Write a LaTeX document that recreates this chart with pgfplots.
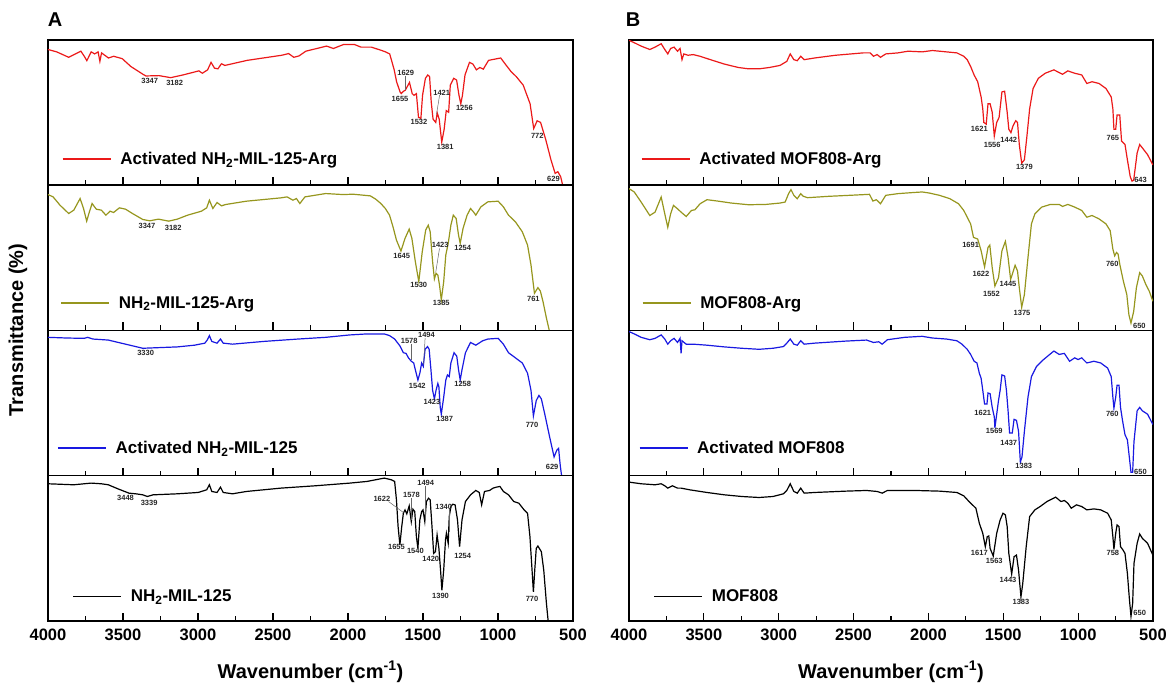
\documentclass[border=0pt]{standalone}
\usepackage{fontspec}
\setmainfont{Liberation Sans}
\usepackage{pgfplots}
\pgfplotsset{compat=1.18}

\definecolor{ftred}{RGB}{235,25,25}
\definecolor{ftolive}{RGB}{150,150,30}
\definecolor{ftblue}{RGB}{25,25,225}

\tikzset{
  pk/.style={font=\bfseries\fontsize{7.5}{7.5}\selectfont, text=black!85, inner sep=0.5pt},
  pkl/.style={black!60, line width=0.5pt},
}

\pgfplotsset{
  ftir/.style={
    scale only axis, height=145.25pt,
    xmin=500, xmax=4000, x dir=reverse, y dir=reverse,
    xtick={500,1000,...,4000}, minor x tick num=1,
    xtick pos=bottom, ytick=\empty,
    major tick length=8pt, minor tick length=5pt,
    axis line style={line width=1.5pt},
    tick style={black, line width=1.2pt},
    clip mode=individual,
    legend cell align=left,
    legend style={anchor=south west, draw=none, fill=white, inner xsep=6pt, inner ysep=4pt,
      font=\bfseries\fontsize{17}{20}\selectfont,
      /tikz/every odd column/.append style={column sep=7pt}},
    legend image code/.code={\draw[##1, line width=1.3pt] (0pt,0pt) -- (48pt,0pt);},
    xticklabel style={font=\bfseries\fontsize{16.5}{16.5}\selectfont, yshift=-4pt},
    /pgf/number format/assume math mode=true,
    /pgf/number format/1000 sep={},
  },
  notl/.style={xticklabels={}},
  wnlabel/.style={xlabel={Wavenumber (cm\textsuperscript{-1})},
    xlabel style={font=\bfseries\fontsize{20}{20}\selectfont, at={(axis description cs:0.5,0)}, anchor=center, yshift=-51pt}},
  pA/.style={width=525pt},
  pB/.style={width=524pt},
}

\begin{document}
\begin{tikzpicture}
\path[use as bounding box] (0,0) rectangle (1170pt,693pt);

\node[font=\bfseries\fontsize{20}{20}\selectfont] at (55pt,673pt) {A};
\node[font=\bfseries\fontsize{20}{20}\selectfont] at (633pt,673pt) {B};
\node[rotate=90, font=\bfseries\fontsize{20}{20}\selectfont] at (18pt,363pt) {Transmittance (\%)};

% ---------------- panel A ----------------
\begin{axis}[ftir, pA, notl, at={(48pt,507.75pt)}, anchor=south west, ymin=37, ymax=465,
  legend style={at={(0.015,0.09)}}]
\addplot[ftred, line width=1.2pt] coordinates {
(4000,65)(3942,72)(3862,88)(3781,70)(3758,85)(3741,98)(3712,72)(3689,78)(3666,72)(3654,100)(3643,75)(3597,90)(3562,85)(3505,92)(3448,115)(3367,138)(3347,143)(3260,142)(3182,148)(3100,140)(2994,128)(2971,135)(2936,125)(2913,103)(2890,120)(2867,122)(2844,107)(2821,112)(2672,97)(2442,82)(2396,77)(2361,88)(2327,84)(2281,70)(2143,55)(2097,62)(2028,50)(1959,50)(1913,58)(1844,58)(1775,68)(1750,72)(1722,78)(1711,95)(1692,125)(1676,160)(1653,190)(1645,195)(1630,188)(1618,185)(1590,162)(1572,195)(1560,200)(1544,195)(1530,265)(1514,268)(1503,200)(1484,150)(1468,140)(1456,145)(1445,220)(1433,270)(1415,280)(1405,252)(1392,270)(1375,338)(1359,300)(1345,245)(1329,250)(1318,170)(1295,150)(1276,155)(1260,200)(1248,225)(1237,200)(1220,140)(1190,103)(1167,108)(1144,125)(1121,118)(1098,123)(1063,97)(982,90)(948,110)(913,130)(878,145)(832,170)(786,225)(762,298)(739,275)(716,280)(682,330)(647,390)(619,430)(601,425)(582,440)(566,470)
};
\addlegendentry{Activated NH\textsubscript{2}-MIL-125-Arg}
\node[pk] at (axis cs:3322,157) {3347};
\node[pk] at (axis cs:3156,163) {3182};
\node[pk] at (axis cs:1615,133) {1629};
\draw[pkl] (axis cs:1618,143) -- (axis cs:1618,183);
\node[pk] at (axis cs:1653,212) {1655};
\node[pk] at (axis cs:1527,278) {1532};
\node[pk] at (axis cs:1375,192) {1421};
\draw[pkl] (axis cs:1389,199) -- (axis cs:1410,256);
\node[pk] at (axis cs:1224,238) {1256};
\node[pk] at (axis cs:1352,352) {1381};
\node[pk] at (axis cs:738,320) {772};
\node[pk] at (axis cs:630,445) {629};
\end{axis}

\begin{axis}[ftir, pA, notl, at={(48pt,362.5pt)}, anchor=south west, ymin=0, ymax=437,
  legend style={at={(0.012,0.1)}}]
\addplot[ftolive, line width=1.2pt] coordinates {
(4000,28)(3966,35)(3920,60)(3862,85)(3828,75)(3786,40)(3763,70)(3742,108)(3724,80)(3706,55)(3678,72)(3644,75)(3614,90)(3586,78)(3563,82)(3524,68)(3483,72)(3437,85)(3368,103)(3322,107)(3264,102)(3195,108)(3138,102)(3069,90)(2977,78)(2942,68)(2924,45)(2901,70)(2873,52)(2843,62)(2816,58)(2678,48)(2448,38)(2406,35)(2367,45)(2344,40)(2321,55)(2287,35)(2149,25)(2034,28)(1966,27)(1896,30)(1851,32)(1815,42)(1781,55)(1751,70)(1723,90)(1700,125)(1677,165)(1647,198)(1620,160)(1592,132)(1574,160)(1551,230)(1528,290)(1505,200)(1482,135)(1465,120)(1452,140)(1436,230)(1424,282)(1413,265)(1401,270)(1390,300)(1378,345)(1362,290)(1348,210)(1332,175)(1314,120)(1298,90)(1279,100)(1263,150)(1252,175)(1233,130)(1206,90)(1183,70)(1164,80)(1148,90)(1114,65)(1068,50)(999,48)(964,65)(930,90)(884,110)(838,140)(803,180)(780,240)(757,325)(734,308)(718,318)(700,350)(677,400)(658,437)(642,470)
};
\addlegendentry{NH\textsubscript{2}-MIL-125-Arg}
\node[pk] at (axis cs:3340,122) {3347};
\node[pk] at (axis cs:3165,128) {3182};
\node[pk] at (axis cs:1642,212) {1645};
\node[pk] at (axis cs:1385,180) {1423};
\draw[pkl] (axis cs:1390,190) -- (axis cs:1415,262);
\node[pk] at (axis cs:1235,190) {1254};
\node[pk] at (axis cs:1528,300) {1530};
\node[pk] at (axis cs:1378,355) {1385};
\node[pk] at (axis cs:764,342) {761};
\end{axis}

\begin{axis}[ftir, pA, notl, at={(48pt,217.25pt)}, anchor=south west, ymin=5, ymax=430,
  legend style={at={(0.006,0.1)}}]
\addplot[ftblue, line width=1.2pt] coordinates {
(4000,25)(3874,27)(3759,28)(3736,25)(3701,30)(3598,33)(3483,45)(3368,57)(3253,55)(3138,53)(3023,48)(2954,42)(2937,32)(2924,20)(2908,37)(2873,42)(2850,30)(2832,42)(2770,45)(2563,37)(2333,30)(2149,25)(1988,18)(1873,15)(1758,15)(1723,20)(1689,30)(1654,50)(1631,70)(1613,72)(1597,85)(1578,95)(1562,100)(1551,120)(1534,150)(1521,130)(1509,100)(1498,110)(1486,60)(1470,52)(1459,60)(1447,120)(1436,180)(1424,205)(1413,180)(1401,160)(1394,170)(1385,230)(1378,250)(1362,200)(1348,150)(1337,135)(1325,140)(1314,100)(1293,70)(1275,80)(1263,120)(1252,150)(1240,120)(1217,70)(1183,40)(1148,48)(1102,35)(1068,30)(999,28)(964,45)(930,70)(884,85)(838,100)(803,130)(780,180)(764,255)(745,210)(727,195)(711,205)(688,250)(654,320)(626,375)(608,355)(596,350)(585,400)(573,440)
};
\addlegendentry{Activated NH\textsubscript{2}-MIL-125}
\node[pk] at (axis cs:3349,72) {3330};
\node[pk] at (axis cs:1592,35) {1578};
\draw[pkl] (axis cs:1578,45) -- (axis cs:1578,90);
\node[pk] at (axis cs:1477,17) {1494};
\draw[pkl] (axis cs:1486,27) -- (axis cs:1496,105);
\node[pk] at (axis cs:1538,168) {1542};
\node[pk] at (axis cs:1235,162) {1258};
\node[pk] at (axis cs:1440,215) {1423};
\node[pk] at (axis cs:1355,265) {1387};
\node[pk] at (axis cs:773,282) {770};
\node[pk] at (axis cs:639,405) {629};
\end{axis}

\begin{axis}[ftir, pA, wnlabel, at={(48pt,72pt)}, anchor=south west, ymin=18, ymax=452,
  legend style={at={(0.035,0.08)}}]
\addplot[black, line width=1.2pt] coordinates {
(4000,42)(3828,45)(3713,40)(3644,42)(3598,45)(3529,58)(3460,70)(3414,72)(3368,75)(3338,80)(3299,75)(3138,72)(2999,68)(2942,60)(2924,45)(2908,65)(2873,68)(2850,52)(2832,68)(2770,72)(2678,65)(2448,55)(2218,48)(1988,40)(1873,35)(1758,25)(1712,30)(1689,35)(1677,90)(1666,170)(1654,225)(1643,175)(1631,130)(1620,120)(1608,132)(1592,108)(1578,155)(1567,118)(1555,125)(1544,200)(1534,235)(1521,150)(1509,125)(1500,120)(1488,155)(1477,95)(1463,85)(1452,90)(1440,170)(1429,250)(1417,245)(1406,195)(1394,235)(1383,300)(1374,360)(1362,300)(1350,210)(1344,190)(1332,220)(1325,140)(1314,110)(1302,103)(1286,105)(1270,150)(1256,230)(1240,150)(1217,95)(1183,75)(1148,62)(1125,68)(1109,105)(1090,65)(1056,62)(1033,55)(1010,52)(987,50)(964,65)(930,75)(895,95)(861,100)(826,120)(803,130)(787,200)(773,300)(764,365)(755,300)(745,235)(734,228)(711,245)(695,300)(677,400)(665,455)
};
\addlegendentry{NH\textsubscript{2}-MIL-125}
\node[pk] at (axis cs:3483,85) {3448};
\node[pk] at (axis cs:3326,100) {3339};
\node[pk] at (axis cs:1774,88) {1622};
\draw[pkl] (axis cs:1730,95) -- (axis cs:1630,128);
\node[pk] at (axis cs:1577,75) {1578};
\draw[pkl] (axis cs:1577,85) -- (axis cs:1577,150);
\node[pk] at (axis cs:1482,38) {1494};
\draw[pkl] (axis cs:1488,48) -- (axis cs:1488,150);
\node[pk] at (axis cs:1362,112) {1340};
\draw[pkl] (axis cs:1325,118) -- (axis cs:1325,185);
\node[pk] at (axis cs:1677,232) {1655};
\node[pk] at (axis cs:1551,242) {1540};
\node[pk] at (axis cs:1448,268) {1420};
\node[pk] at (axis cs:1235,258) {1254};
\node[pk] at (axis cs:1383,378) {1390};
\node[pk] at (axis cs:773,385) {770};
\end{axis}

% ---------------- panel B ----------------
\begin{axis}[ftir, pB, notl, at={(629pt,507.75pt)}, anchor=south west, ymin=37, ymax=465,
  legend style={at={(0.011,0.09)}}]
\addplot[ftred, line width=1.2pt] coordinates {
(4000,38)(3965,45)(3919,55)(3861,65)(3826,58)(3785,48)(3761,65)(3741,78)(3722,62)(3699,58)(3676,70)(3659,62)(3646,95)(3634,78)(3606,82)(3571,80)(3525,85)(3456,95)(3363,108)(3270,118)(3201,122)(3131,122)(3062,118)(2992,112)(2946,100)(2923,78)(2899,95)(2876,98)(2853,85)(2830,95)(2760,90)(2621,82)(2436,75)(2390,75)(2367,85)(2343,80)(2320,88)(2285,78)(2204,75)(2135,70)(2042,72)(1973,68)(1880,72)(1810,75)(1764,85)(1741,95)(1718,115)(1695,140)(1671,160)(1648,205)(1637,240)(1630,280)(1614,285)(1602,225)(1588,225)(1574,250)(1560,320)(1544,280)(1528,265)(1509,190)(1491,188)(1474,250)(1463,300)(1449,310)(1435,290)(1417,275)(1405,280)(1393,345)(1377,400)(1359,390)(1342,320)(1324,240)(1301,180)(1266,150)(1220,135)(1162,125)(1127,133)(1104,138)(1069,128)(1023,135)(976,140)(942,165)(907,160)(861,165)(814,180)(779,205)(768,240)(761,300)(749,300)(740,258)(722,258)(710,335)(687,345)(671,390)(652,440)(640,453)(629,450)(606,370)(589,345)(571,355)(536,375)(501,405)
};
\addlegendentry{Activated MOF808-Arg}
\node[pk] at (axis cs:1660,300) {1621};
\node[pk] at (axis cs:1574,345) {1556};
\node[pk] at (axis cs:1463,330) {1442};
\node[pk] at (axis cs:1359,412) {1379};
\node[pk] at (axis cs:768,325) {765};
\node[pk] at (axis cs:583,450) {643};
\end{axis}

\begin{axis}[ftir, pB, notl, at={(629pt,362.5pt)}, anchor=south west, ymin=5, ymax=437,
  legend style={at={(0.013,0.1)}}]
\addplot[ftolive, line width=1.2pt] coordinates {
(4000,15)(3965,25)(3919,55)(3861,95)(3826,85)(3785,40)(3761,90)(3741,130)(3722,90)(3703,65)(3676,75)(3652,85)(3618,98)(3583,80)(3560,78)(3525,60)(3479,48)(3409,52)(3316,58)(3201,63)(3085,62)(2992,58)(2957,55)(2934,30)(2918,18)(2899,35)(2876,45)(2853,30)(2835,38)(2807,42)(2668,38)(2436,33)(2394,32)(2371,52)(2348,48)(2320,60)(2285,35)(2204,30)(2112,27)(2042,25)(1996,28)(1926,35)(1857,45)(1799,60)(1764,80)(1741,100)(1718,120)(1699,160)(1671,165)(1648,200)(1625,248)(1602,190)(1590,183)(1574,250)(1556,305)(1532,280)(1509,200)(1486,172)(1468,220)(1451,285)(1440,270)(1421,243)(1405,260)(1393,310)(1377,368)(1359,330)(1335,220)(1312,120)(1289,90)(1243,70)(1185,62)(1127,62)(1104,68)(1069,62)(1023,70)(976,80)(942,100)(907,95)(861,105)(814,120)(786,140)(768,195)(756,215)(744,205)(733,210)(722,240)(698,290)(675,330)(661,390)(647,415)(629,380)(611,310)(589,265)(571,275)(548,300)(525,320)(501,350)
};
\addlegendentry{MOF808-Arg}
\node[pk] at (axis cs:1718,182) {1691};
\node[pk] at (axis cs:1649,268) {1622};
\node[pk] at (axis cs:1579,328) {1552};
\node[pk] at (axis cs:1468,298) {1445};
\node[pk] at (axis cs:1375,385) {1375};
\node[pk] at (axis cs:772,238) {760};
\node[pk] at (axis cs:591,423) {650};
\end{axis}

\begin{axis}[ftir, pB, notl, at={(629pt,217.25pt)}, anchor=south west, ymin=5, ymax=430,
  legend style={at={(0.007,0.1)}}]
\addplot[ftblue, line width=1.2pt] coordinates {
(4000,8)(3965,15)(3919,25)(3861,32)(3826,28)(3785,18)(3761,30)(3741,45)(3722,35)(3699,28)(3676,40)(3659,28)(3652,72)(3646,35)(3618,45)(3571,45)(3479,48)(3363,53)(3247,57)(3131,60)(3038,57)(2969,52)(2946,42)(2923,30)(2899,45)(2876,48)(2853,35)(2830,45)(2760,42)(2552,36)(2413,33)(2367,40)(2332,38)(2309,45)(2274,32)(2158,25)(2042,22)(1973,27)(1880,30)(1810,35)(1776,45)(1741,60)(1718,75)(1695,95)(1676,100)(1660,130)(1648,145)(1637,180)(1625,220)(1609,220)(1602,188)(1588,190)(1574,230)(1560,258)(1556,290)(1544,250)(1532,210)(1521,180)(1509,135)(1491,138)(1479,180)(1468,240)(1458,305)(1440,305)(1428,265)(1412,268)(1398,300)(1386,390)(1375,375)(1359,300)(1335,200)(1312,140)(1278,110)(1231,90)(1162,65)(1127,75)(1092,72)(1057,95)(1023,85)(1000,90)(976,85)(942,100)(895,95)(849,100)(803,115)(779,140)(768,200)(761,232)(749,200)(740,165)(727,165)(717,230)(703,270)(687,310)(671,325)(657,380)(647,420)(636,420)(627,330)(606,240)(589,230)(571,240)(536,250)(501,280)
};
\addlegendentry{Activated MOF808}
\node[pk] at (axis cs:1637,245) {1621};
\node[pk] at (axis cs:1560,298) {1569};
\node[pk] at (axis cs:1463,335) {1437};
\node[pk] at (axis cs:1363,402) {1383};
\node[pk] at (axis cs:772,248) {760};
\node[pk] at (axis cs:584,418) {650};
\end{axis}

\begin{axis}[ftir, pB, wnlabel, at={(629pt,72pt)}, anchor=south west, ymin=18, ymax=452,
  legend style={at={(0.035,0.08)}}]
\addplot[black, line width=1.2pt] coordinates {
(4000,37)(3919,42)(3826,45)(3785,42)(3761,48)(3741,55)(3710,48)(3676,55)(3652,55)(3595,60)(3479,68)(3363,75)(3247,80)(3131,83)(3038,80)(2969,72)(2946,62)(2923,42)(2899,65)(2876,70)(2853,55)(2830,70)(2760,68)(2552,64)(2413,62)(2343,65)(2309,70)(2274,62)(2089,62)(1926,64)(1810,68)(1764,78)(1729,95)(1706,105)(1683,115)(1660,160)(1637,190)(1620,230)(1607,200)(1597,198)(1588,235)(1567,258)(1544,190)(1521,150)(1502,130)(1486,135)(1474,170)(1463,250)(1444,312)(1428,260)(1412,255)(1398,300)(1382,380)(1370,340)(1347,230)(1324,140)(1289,120)(1254,110)(1208,95)(1150,82)(1115,95)(1092,92)(1069,100)(1046,115)(1011,105)(976,110)(942,120)(895,117)(849,120)(803,130)(779,150)(768,200)(761,238)(749,190)(740,165)(727,170)(717,230)(703,238)(687,250)(671,310)(657,390)(647,438)(636,400)(627,280)(606,220)(589,192)(571,205)(536,220)(501,255)
};
\addlegendentry{MOF808}
\node[pk] at (axis cs:1660,248) {1617};
\node[pk] at (axis cs:1560,272) {1563};
\node[pk] at (axis cs:1468,328) {1443};
\node[pk] at (axis cs:1382,395) {1383};
\node[pk] at (axis cs:768,250) {758};
\node[pk] at (axis cs:589,428) {650};
\end{axis}
\end{tikzpicture}
\end{document}
